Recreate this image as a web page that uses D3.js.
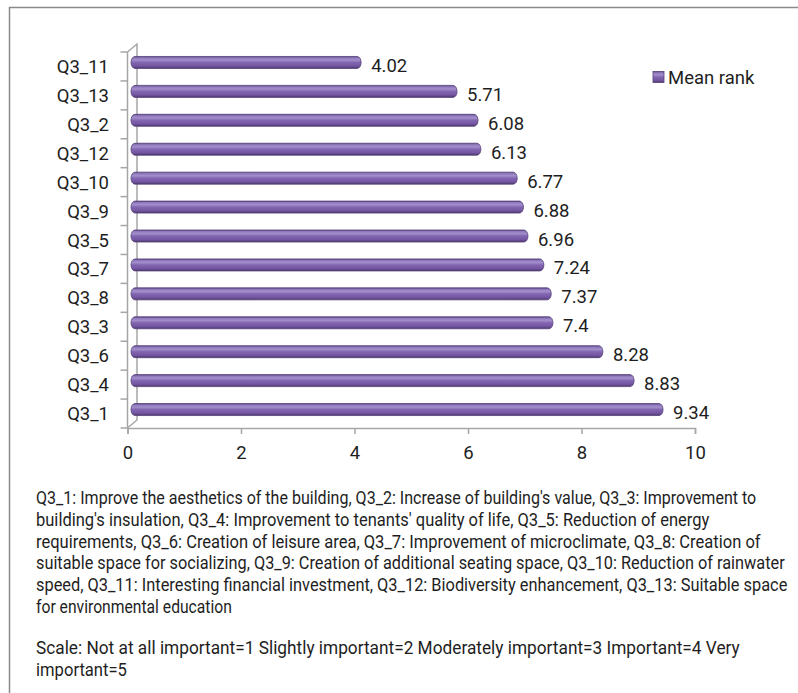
<!DOCTYPE html>
<html>
<head>
<meta charset="utf-8">
<script src="https://cdn.jsdelivr.net/npm/d3@7"></script>
<style>
  html, body { margin: 0; padding: 0; background: #fff; }
  svg { display: block; }
</style>
</head>
<body>
<svg id="chart" width="798" height="693"></svg>
<script>
// ---- data ----
const categories = ["Q3_11", "Q3_13", "Q3_2", "Q3_12", "Q3_10", "Q3_9", "Q3_5", "Q3_7", "Q3_8", "Q3_3", "Q3_6", "Q3_4", "Q3_1"];
const values = [4.02, 5.71, 6.08, 6.13, 6.77, 6.88, 6.96, 7.24, 7.37, 7.4, 8.28, 8.83, 9.34];
const xTicks = [0, 2, 4, 6, 8, 10];
const seriesName = "Mean rank";
const noteLines = [
  "Q3_1: Improve the aesthetics of the building, Q3_2: Increase of building's value, Q3_3: Improvement to",
  "building's insulation, Q3_4: Improvement to tenants' quality of life, Q3_5: Reduction of energy",
  "requirements, Q3_6: Creation of leisure area, Q3_7: Improvement of microclimate, Q3_8: Creation of",
  "suitable space for socializing, Q3_9: Creation of additional seating space, Q3_10: Reduction of rainwater",
  "speed, Q3_11: Interesting financial investment, Q3_12: Biodiversity enhancement, Q3_13: Suitable space",
  "for environmental education"
];
const scaleLines = [
  "Scale: Not at all important=1 Slightly important=2 Moderately important=3 Important=4 Very",
  "important=5"
];

// ---- layout ----
const svg = d3.select("#chart");
const x = d3.scaleLinear().domain([0, 10]).range([127.5, 695]);
const y = d3.scaleBand().domain(categories).range([52, 428]).paddingInner(0).paddingOuter(0);
const depthX = 9.5, depthY = -8;
const axisColor = "#a6a6a6";
const labelFont = "Roboto, 'Liberation Sans', Arial, sans-serif";
const textColor = "#1e1e1e";

// frame
svg.append("path")
  .attr("d", "M9.5,700 L9.5,7.5 L800,7.5")
  .attr("fill", "none").attr("stroke", "#8a8a8a").attr("stroke-width", 1.5);

// gradients
const defs = svg.append("defs");
const g1 = defs.append("linearGradient").attr("id", "barGrad")
  .attr("x1", 0).attr("y1", 0).attr("x2", 0).attr("y2", 1);
[[0, "#5a4580"], [0.12, "#8f78bd"], [0.3, "#a38fcb"], [0.5, "#8366b2"], [0.8, "#7355a2"], [1, "#4b3868"]]
  .forEach(([o, c]) => g1.append("stop").attr("offset", o).attr("stop-color", c));

// 3D wall lines
const x0 = x(0), yTop = y.range()[0], yBot = y.range()[1];
svg.append("path")
  .attr("d", `M${x0},${yTop} L${x0 + depthX},${yTop + depthY} L${x0 + depthX},${yBot + depthY} L${x0},${yBot}`)
  .attr("fill", "none").attr("stroke", axisColor).attr("stroke-width", 1.5);

// y axis (front)
const yAxisG = svg.append("g");
yAxisG.append("line").attr("x1", x0).attr("x2", x0).attr("y1", yTop).attr("y2", yBot)
  .attr("stroke", axisColor).attr("stroke-width", 1.5);
const boundaries = categories.map(c => y(c)).concat([yBot]);
yAxisG.selectAll("line.tick").data(boundaries).enter().append("line")
  .attr("class", "tick")
  .attr("x1", x0 - 7).attr("x2", x0).attr("y1", d => d).attr("y2", d => d)
  .attr("stroke", axisColor).attr("stroke-width", 1.5);
yAxisG.selectAll("text").data(categories).enter().append("text")
  .attr("x", 109).attr("y", d => y(d) + y.bandwidth() / 2 + 6.5)
  .attr("text-anchor", "end")
  .attr("font-family", labelFont).attr("font-size", 18.5).attr("fill", textColor)
  .text(d => d);

// x axis
const xAxisG = svg.append("g").attr("transform", `translate(0,${yBot})`);
xAxisG.call(d3.axisBottom(x).tickValues(xTicks).tickSize(6).tickPadding(12).tickFormat(d3.format("d")));
xAxisG.select(".domain").attr("stroke", axisColor).attr("stroke-width", 1.5);
xAxisG.selectAll(".tick line").attr("stroke", axisColor).attr("stroke-width", 1.5);
xAxisG.selectAll(".tick text").attr("font-family", labelFont).attr("font-size", 18.5).attr("fill", textColor);

// bars
const barH = 12;
const bars = svg.append("g");
categories.forEach((c, i) => {
  const cy = y(c) + y.bandwidth() / 2 - 4;
  const xs = x0 + 3.5;
  const xe = x(values[i]) + 5.5;
  bars.append("rect")
    .attr("x", xs).attr("y", cy - barH / 2)
    .attr("width", xe - xs).attr("height", barH)
    .attr("rx", 4).attr("ry", 6)
    .attr("fill", "url(#barGrad)")
    .attr("stroke", "#55407a").attr("stroke-width", 0.8);
});

// value labels
svg.append("g").selectAll("text").data(categories).enter().append("text")
  .attr("x", (c, i) => x(values[i]) + 15.5)
  .attr("y", c => y(c) + y.bandwidth() / 2 + 5.5)
  .attr("font-family", labelFont).attr("font-size", 18.5).attr("fill", textColor)
  .text((c, i) => values[i]);

// legend
const leg = svg.append("g");
leg.append("rect").attr("x", 653).attr("y", 71.5).attr("width", 11).attr("height", 11)
  .attr("fill", "url(#barGrad)").attr("stroke", "#55407a").attr("stroke-width", 0.8);
leg.append("text").attr("x", 668).attr("y", 83.5)
  .attr("font-family", labelFont).attr("font-size", 18.5).attr("fill", textColor)
  .text(seriesName);

// notes: condensed by horizontal scaling to the reference line widths
const noteFont = "Roboto, 'Liberation Sans', sans-serif";
const allLines = noteLines.concat(scaleLines);
const lineEnds = [757, 710, 761, 785, 788, 232, 740, 127];
const lineBase = [504, 526, 547.5, 569, 591, 612.5, 654, 676];
const notesG = svg.append("g");
allLines.forEach((t, i) => {
  const g = notesG.append("g");
  const txt = g.append("text")
    .attr("x", 0).attr("y", 0)
    .attr("font-family", noteFont).attr("font-size", 17.5).attr("fill", textColor)
    .text(t);
  const w = txt.node().getComputedTextLength();
  const sx = (lineEnds[i] - 36) / w;
  g.attr("transform", `translate(36,${lineBase[i]}) scale(${sx},1)`);
});
</script>
</body>
</html>
